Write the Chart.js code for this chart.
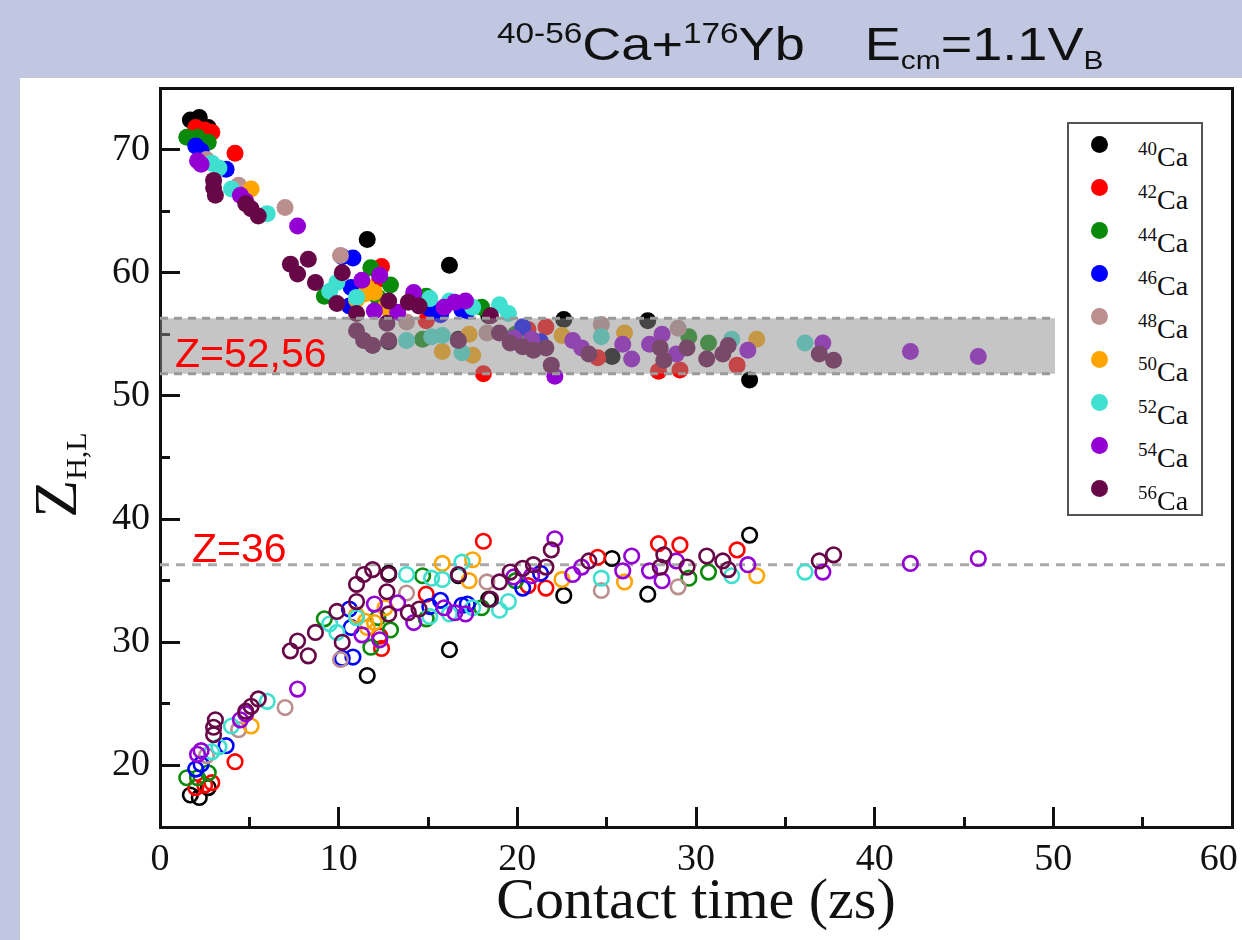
<!DOCTYPE html>
<html>
<head>
<meta charset="utf-8">
<script src="https://cdn.jsdelivr.net/npm/chart.js@4.4.0/dist/chart.umd.min.js"></script>
<style>
  body { margin: 0; width: 1242px; height: 940px; background: #c1c7e0; position: relative; overflow: hidden; }
  #panel { position: absolute; left: 20px; top: 78px; width: 1222px; height: 862px; background: #fff; }
  #chart { position: absolute; left: 0; top: 0; }
  #title { position: absolute; left: 497px; top: 3px; font-family: 'Liberation Sans', sans-serif; font-size: 47px; line-height: 60px; color: #111;
           white-space: nowrap; transform: scaleX(1.15); transform-origin: left top; }
  #title .sup { font-size: 29px; vertical-align: 17px; }
  #title .sub { font-size: 26px; vertical-align: -9px; }
  .note { position: absolute; font-family: 'Liberation Sans', sans-serif; font-size: 41px; line-height: 41px; color: #ff0000; }
  #ylab { position: absolute; left: -15px; top: 440px; width: 140px; height: 70px; text-align: center; transform: rotate(-90deg);
          font-family: 'Liberation Serif', serif; font-size: 62px; line-height: 70px; color: #111; }
  #ylab sub { font-size: 30px; vertical-align: -10px; }
  #legend { position: absolute; left: 1067px; top: 122px; width: 132px; height: 390px; border: 2px solid #555; background: #fff; }
  .item { position: absolute; left: 0; height: 43px; width: 132px; font-family: 'Liberation Serif', serif; color: #111; }
  .item .dot { position: absolute; left: 22px; top: 13px; width: 17px; height: 17px; border-radius: 50%; }
  .item .txt { position: absolute; left: 69px; top: 6px; font-size: 28px; line-height: 40px; }
  .item .txt span { font-size: 19px; vertical-align: 11px; }
</style>
</head>
<body>
<div id="panel"></div>
<canvas id="chart" width="1242" height="940"></canvas>
<div id="title"><span class="sup">40-56</span>Ca+<span class="sup">176</span>Yb&nbsp;&nbsp;&nbsp; E<span class="sub">cm</span>=1.1V<span class="sub">B</span></div>
<div class="note" style="left:175px; top:333px;">Z=52,56</div>
<div class="note" style="left:192px; top:528px;">Z=36</div>
<div id="ylab">Z<sub>H,L</sub></div>
<div id="legend"></div>
<script>
// contact time (zs), heavy fragment Z, light fragment Z
const t40 = [1.7, 2.2, 2.7, 11.6, 12.8, 16.2, 16.7, 18.4, 22.6, 25.3, 27.3, 33.0];
const zh40 = [72.4, 72.6, 71.8, 62.7, 54.4, 60.6, 54.6, 56.5, 56.2, 53.2, 56.1, 51.3];
const zl40 = [17.6, 17.4, 18.2, 27.3, 35.6, 29.4, 35.4, 33.5, 33.8, 36.8, 33.9, 38.7];

const t42 = [2.0, 2.5, 2.9, 4.2, 12.3, 12.4, 14.9, 18.1, 20.6, 21.6, 24.5, 27.9, 29.1, 32.3];
const zh42 = [71.8, 71.6, 71.4, 69.7, 59.5, 60.5, 56.1, 51.8, 55.4, 55.6, 53.1, 52.0, 52.1, 52.5];
const zl42 = [18.2, 18.4, 18.6, 20.3, 30.5, 29.5, 33.9, 38.2, 34.6, 34.4, 36.9, 38.0, 37.9, 37.5];

const t44 = [1.5, 2.1, 2.7, 9.2, 11.8, 12.2, 12.9, 14.7, 14.9, 18.0, 19.9, 29.6, 30.7];
const zh44 = [71.0, 71.0, 70.6, 58.1, 60.4, 58.0, 59.0, 54.6, 58.1, 57.2, 55.0, 54.8, 54.3];
const zl44 = [19.0, 19.0, 19.4, 31.9, 29.6, 32.0, 31.0, 35.4, 31.9, 32.8, 35.0, 35.2, 35.7];

const t46 = [2.0, 2.3, 3.7, 10.2, 10.6, 10.7, 10.8, 15.1, 15.7, 16.9, 17.2, 20.3, 21.3];
const zh46 = [70.3, 69.9, 68.4, 61.3, 57.3, 58.8, 61.2, 57.1, 56.6, 57.0, 56.9, 55.6, 54.4];
const zl46 = [19.7, 20.1, 21.6, 28.7, 32.7, 31.2, 28.8, 32.9, 33.4, 33.0, 33.1, 34.4, 35.6];

const t48 = [2.6, 4.4, 7.0, 10.1, 13.8, 18.3, 24.7, 29.0];
const zh48 = [69.2, 67.1, 65.3, 61.4, 56.0, 55.1, 55.8, 55.5];
const zl48 = [20.8, 22.9, 24.7, 28.6, 34.0, 34.9, 34.2, 34.5];

const t50 = [5.1, 11.0, 11.5, 11.6, 12.0, 12.6, 15.8, 17.3, 17.5, 22.5, 26.0, 33.4];
const zh50 = [66.8, 57.8, 58.3, 58.8, 58.4, 57.2, 53.6, 55.0, 53.3, 54.9, 55.1, 54.6];
const zl50 = [23.2, 32.2, 31.7, 31.2, 31.6, 32.8, 36.4, 35.0, 36.7, 35.1, 34.9, 35.4];

const t52 = [2.9, 3.3, 4.0, 6.0, 9.5, 9.9, 11.0, 13.8, 15.1, 15.2, 15.8, 16.2, 16.9, 17.5, 19.0, 19.5, 24.7, 32.0, 36.1];
const zh52 = [68.9, 68.5, 66.8, 64.8, 58.5, 59.2, 58.0, 54.5, 57.9, 54.8, 54.9, 57.7, 53.5, 57.2, 57.4, 56.7, 54.8, 54.6, 54.3];
const zl52 = [21.1, 21.5, 23.2, 25.2, 31.5, 30.8, 32.0, 35.5, 32.1, 35.2, 35.1, 32.3, 36.5, 32.8, 32.6, 33.3, 35.2, 35.4, 35.7];

const t54 = [2.1, 2.3, 4.5, 4.8, 7.7, 11.3, 12.0, 12.3, 13.3, 14.2, 15.9, 16.5, 17.1, 19.8, 20.8, 22.1, 23.1, 23.6, 25.9, 26.4, 27.4, 28.1, 28.9, 32.9, 37.1, 42.0, 45.8];
const zh54 = [69.1, 68.8, 66.3, 65.8, 63.8, 59.4, 56.9, 59.8, 56.8, 58.4, 57.2, 57.6, 57.7, 54.7, 54.6, 51.6, 54.5, 53.9, 54.2, 53.0, 54.2, 55.0, 53.4, 53.7, 54.3, 53.6, 53.2];
const zl54 = [20.9, 21.2, 23.7, 24.2, 26.2, 30.6, 33.1, 30.2, 33.2, 31.6, 32.8, 32.4, 32.3, 35.3, 35.4, 38.4, 35.5, 36.1, 35.8, 37.0, 35.8, 35.0, 36.6, 36.3, 35.7, 36.4, 36.8];

const t56 = [3.0, 3.0, 3.1, 4.8, 5.1, 5.5, 7.3, 8.3, 7.7, 8.7, 9.9, 10.2, 11.0, 11.0, 11.4, 11.9, 12.7, 12.8, 12.8, 13.9, 14.5, 16.7, 18.5, 19.0, 19.6, 20.3, 20.9, 21.6, 21.9, 24.0, 28.0, 28.2, 29.5, 30.6, 31.5, 31.8, 36.9, 37.7];
const zh56 = [67.5, 66.9, 66.3, 65.6, 65.2, 64.6, 60.7, 61.1, 59.9, 59.2, 57.5, 60.0, 56.7, 55.3, 54.5, 54.1, 55.9, 54.5, 57.7, 57.6, 57.3, 54.5, 56.5, 55.1, 54.3, 54.0, 53.7, 53.9, 52.5, 53.4, 53.9, 52.9, 53.9, 53.0, 53.4, 54.1, 53.4, 52.9];
const zl56 = [22.5, 23.1, 23.7, 24.4, 24.8, 25.4, 29.3, 28.9, 30.1, 30.8, 32.5, 30.0, 33.3, 34.7, 35.5, 35.9, 34.1, 35.5, 32.3, 32.4, 32.7, 35.5, 33.5, 34.9, 35.7, 36.0, 36.3, 36.1, 37.5, 36.6, 36.1, 37.1, 36.1, 37.0, 36.6, 35.9, 36.6, 37.1];

const isotopes = ['40', '42', '44', '46', '48', '50', '52', '54', '56'];
const colors = ['#000000', '#ff0000', '#0a8a0a', '#0000ff', '#bc8f8f', '#ffa500', '#40e0d0', '#9400d3', '#670748'];
const times = [t40, t42, t44, t46, t48, t50, t52, t54, t56];
const heavy = [zh40, zh42, zh44, zh46, zh48, zh50, zh52, zh54, zh56];
const light = [zl40, zl42, zl44, zl46, zl48, zl50, zl52, zl54, zl56];

const xTicks = [0, 10, 20, 30, 40, 50, 60];
const yTicks = [20, 30, 40, 50, 60, 70];

// shaded band Z=52..56 and the Z=36 guide line
const bandTop = 56.3, bandBottom = 51.8, bandEnd = 50.1;
const lineZ36 = 36.3;

const pts = (xs, ys) => xs.map((x, i) => ({ x: x, y: ys[i] }));

const datasets = [];
isotopes.forEach((iso, i) => {
    // later isotopes sit on top of earlier ones
    datasets.push({
        label: iso + 'Ca heavy', data: pts(times[i], heavy[i]), order: 100 - i,
        pointRadius: 8.5, pointBackgroundColor: colors[i], pointBorderWidth: 0, showLine: false
    });
    datasets.push({
        label: iso + 'Ca light', data: pts(times[i], light[i]), order: 100 - i,
        pointRadius: 7.3, pointBackgroundColor: 'rgba(0,0,0,0)', pointBorderColor: colors[i], pointBorderWidth: 2.6, showLine: false
    });
});
datasets.push({
    type: 'line', label: 'Z=36', data: [{ x: 0, y: lineZ36 }, { x: 60, y: lineZ36 }], order: 200,
    borderColor: '#a9a9a9', borderWidth: 3, borderDash: [9, 7], pointRadius: 0, fill: false
});
datasets.push({
    type: 'line', label: 'band top', data: [{ x: 0, y: bandTop }, { x: bandEnd, y: bandTop }], order: -1,
    borderColor: '#9a9a9a', borderWidth: 3, borderDash: [8, 6], pointRadius: 0, fill: false
});
datasets.push({
    type: 'line', label: 'band bottom', data: [{ x: 0, y: bandBottom }, { x: bandEnd, y: bandBottom }], order: -1,
    borderColor: '#9a9a9a', borderWidth: 3, borderDash: [8, 6], pointRadius: 0,
    fill: '-1', backgroundColor: 'rgba(139,139,139,0.5)'
});

const tickFont = { family: "'Liberation Serif', serif", size: 38 };
const noPad = s => { s.paddingLeft = 0; s.paddingRight = 0; s.paddingTop = 0; s.paddingBottom = 0; };

new Chart(document.getElementById('chart'), {
    type: 'scatter',
    data: { datasets },
    options: {
        responsive: false,
        animation: false,
        layout: { padding: { left: 0, top: 88, right: 10, bottom: 0 } },
        plugins: { legend: { display: false }, tooltip: { enabled: false } },
        scales: {
            x: {
                type: 'linear', position: 'bottom', min: 0, max: 60, weight: 1,
                afterBuildTicks: s => { s.ticks = xTicks.map(v => ({ value: v })); },
                // last label pulled left a little so it stays on the page
                ticks: { color: '#111', font: tickFont, padding: 30, maxRotation: 0,
                         callback: v => v === 60 ? '60\u2002\u2009' : String(v) },
                grid: { drawOnChartArea: false, tickLength: -20, tickWidth: 3, tickColor: '#111' },
                border: { display: true, color: '#111', width: 3 },
                title: { display: true, text: 'Contact time (zs)', color: '#111', font: { family: "'Liberation Serif', serif", size: 58 }, padding: { top: 0, bottom: 2 } },
                afterFit: s => { s.height = 113; noPad(s); }
            },
            xm: {
                type: 'linear', position: 'bottom', min: 0, max: 60, weight: 0,
                ticks: { stepSize: 5, display: false },
                grid: { drawOnChartArea: false, tickLength: -10, tickWidth: 3, tickColor: '#111' },
                border: { display: false },
                afterFit: s => { s.height = 0; noPad(s); }
            },
            xt: {
                type: 'linear', position: 'top', min: 0, max: 60,
                ticks: { display: false }, grid: { display: false },
                border: { display: true, color: '#111', width: 3 },
                afterFit: s => { s.height = 0; noPad(s); }
            },
            y: {
                type: 'linear', position: 'left', min: 15, max: 75, weight: 1,
                afterBuildTicks: s => { s.ticks = yTicks.map(v => ({ value: v })); },
                ticks: { color: '#111', font: tickFont, padding: 30 },
                grid: { drawOnChartArea: false, tickLength: -20, tickWidth: 3, tickColor: '#111' },
                border: { display: true, color: '#111', width: 3 },
                afterFit: s => { s.width = 160; noPad(s); }
            },
            ym: {
                type: 'linear', position: 'left', min: 15, max: 75, weight: 0,
                ticks: { stepSize: 5, display: false },
                grid: { drawOnChartArea: false, tickLength: -10, tickWidth: 3, tickColor: '#111' },
                border: { display: false },
                afterFit: s => { s.width = 0; noPad(s); }
            },
            yr: {
                type: 'linear', position: 'right', min: 15, max: 75,
                ticks: { display: false }, grid: { display: false },
                border: { display: true, color: '#111', width: 3 },
                afterFit: s => { s.width = 0; noPad(s); }
            }
        }
    }
});

// legend with superscript mass numbers
const legend = document.getElementById('legend');
isotopes.forEach((iso, i) => {
    const row = document.createElement('div');
    row.className = 'item';
    row.style.top = (i * 43 - 1) + 'px';
    row.innerHTML = '<div class="dot" style="background:' + colors[i] + '"></div><div class="txt"><span>' + iso + '</span>Ca</div>';
    legend.appendChild(row);
});
</script>
</body>
</html>
